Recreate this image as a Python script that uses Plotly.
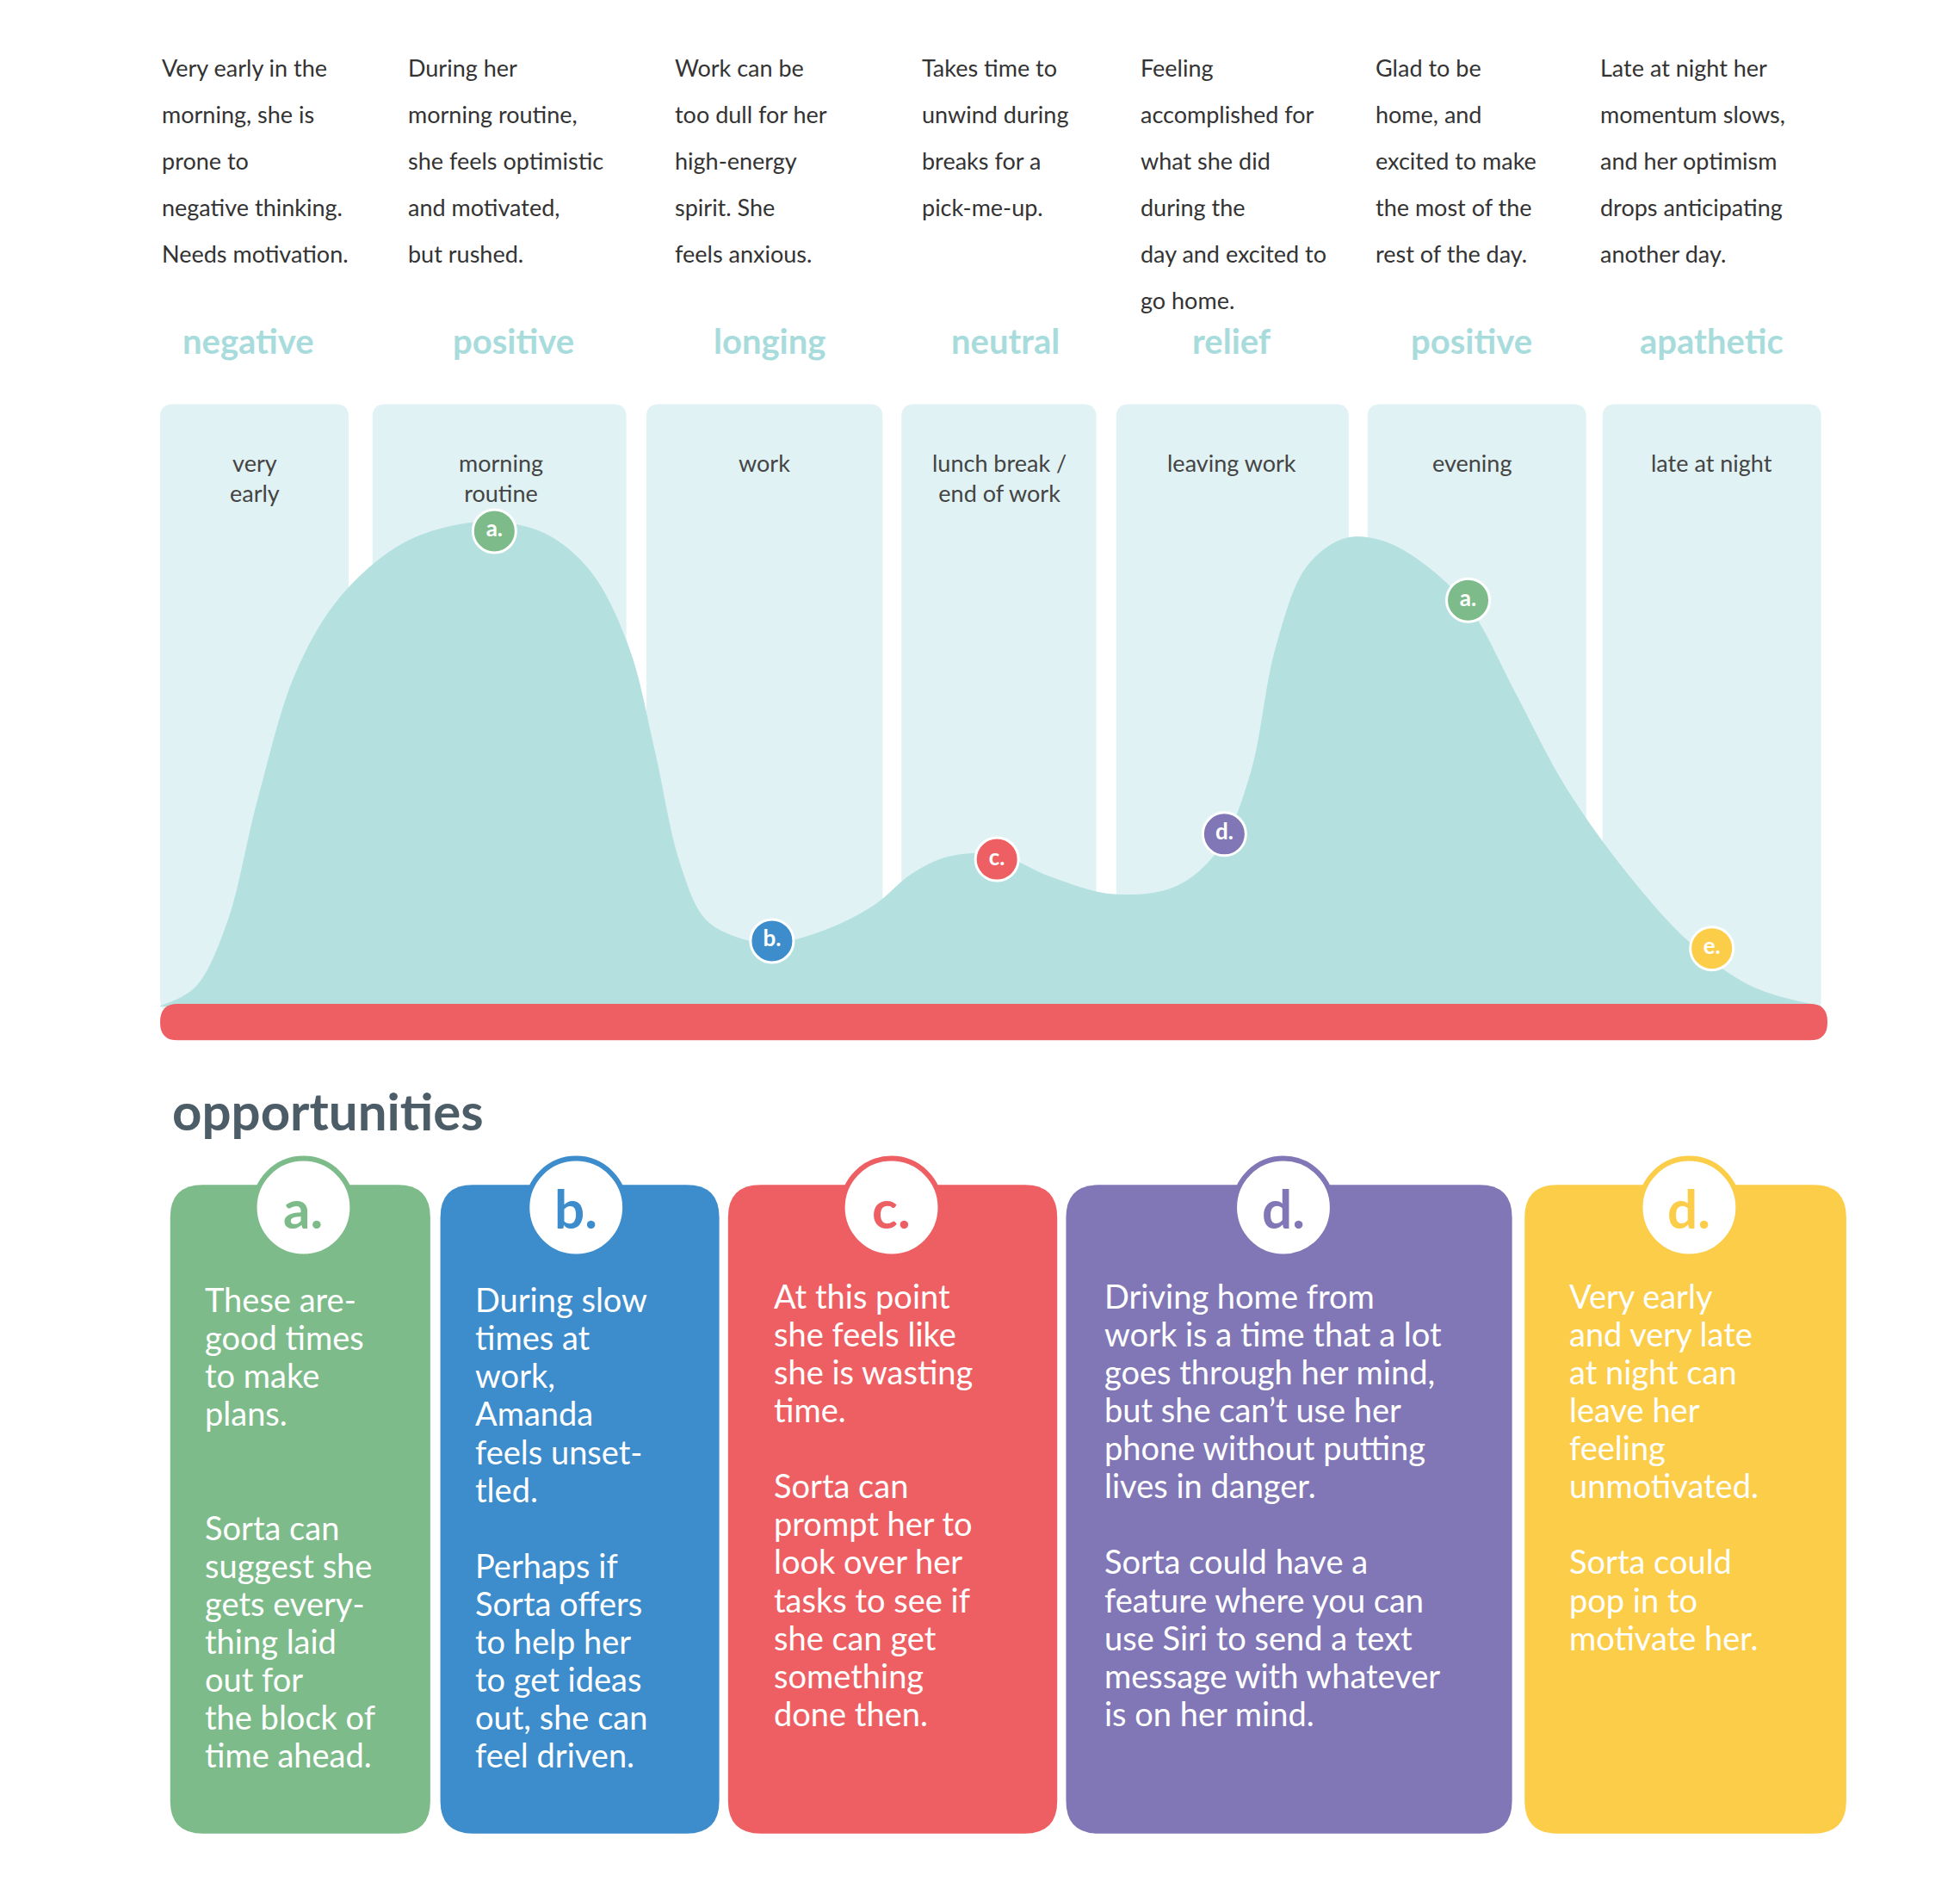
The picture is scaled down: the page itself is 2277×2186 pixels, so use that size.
import plotly.graph_objects as go

W, H = 2277, 2186
XR, YR = 1560, 1497  # design units

# ---- data ----
descriptions = [
    ["Very early in the", "morning, she is", "prone to", "negative thinking.", "Needs motivation."],
    ["During her", "morning routine,", "she feels optimistic", "and motivated,", "but rushed."],
    ["Work can be", "too dull for her", "high-energy", "spirit. She", "feels anxious."],
    ["Takes time to", "unwind during", "breaks for a", "pick-me-up."],
    ["Feeling", "accomplished for", "what she did", "during the", "day and excited to", "go home."],
    ["Glad to be", "home, and", "excited to make", "the most of the", "rest of the day."],
    ["Late at night her", "momentum slows,", "and her optimism", "drops anticipating", "another day."],
]
desc_x = [122, 318, 530, 727, 901, 1088, 1267]
moods = ["negative", "positive", "longing", "neutral", "relief", "positive", "apathetic"]
mood_x = [192, 403, 607, 795, 975, 1166, 1357]
phases = ["very<br>early", "morning<br>routine", "work", "lunch break /<br>end of work", "leaving work", "evening", "late at night"]
phase_x = [197, 393, 603, 790, 975, 1166, 1357]
col_l = [122, 291, 509, 712, 883, 1083, 1270]
col_r = [272, 493, 697, 867, 1068, 1257, 1444]

curve_x = [122, 150, 175, 200, 230, 265, 310, 350, 390, 430, 465, 495, 515, 535, 555, 580, 610,
           650, 690, 720, 750, 790, 830, 880, 930, 965, 990, 1010, 1035, 1065, 1095, 1130, 1165,
           1200, 1240, 1290, 1340, 1390, 1444]
curve_y = [795, 780, 730, 630, 530, 470, 430, 414, 410, 420, 450, 510, 590, 680, 725, 740, 745,
           735, 715, 690, 676, 675, 692, 706, 700, 670, 610, 510, 445, 423, 425, 445, 480,
           545, 620, 690, 745, 780, 795]

pt_label = ["a.", "b.", "c.", "d.", "a.", "e."]
pt_x = [388, 609, 788, 969, 1163, 1357]
pt_y = [417, 743, 678, 658, 472, 749]
GREEN, BLUE, RED, PURPLE, YELLOW = "#7dbb8a", "#3d8ccc", "#ee5f63", "#8177b6", "#fccd48"
pt_col = [GREEN, BLUE, RED, PURPLE, GREEN, YELLOW]

card_letters = ["a.", "b.", "c.", "d.", "d."]
card_l = [130, 345, 574, 843, 1208]
card_r = [337, 567, 836, 1198, 1464]
card_col = [GREEN, BLUE, RED, PURPLE, YELLOW]
card_circle_x = [236, 453, 704, 1016, 1339]
card_text_x = [156, 371, 609, 872, 1242]
card_text_y0 = [1028, 1028, 1025, 1025, 1025]
card_lines = [
    ["These are-", "good times", "to make", "plans.", "", "", "Sorta can", "suggest she", "gets every-",
     "thing laid", "out for", "the block of", "time ahead."],
    ["During slow", "times at", "work,", "Amanda", "feels unset-", "tled.", "", "Perhaps if", "Sorta offers",
     "to help her", "to get ideas", "out, she can", "feel driven."],
    ["At this point", "she feels like", "she is wasting", "time.", "", "Sorta can", "prompt her to",
     "look over her", "tasks to see if", "she can get", "something", "done then."],
    ["Driving home from", "work is a time that a lot", "goes through her mind,", "but she can\u2019t use her",
     "phone without putting", "lives in danger.", "", "Sorta could have a", "feature where you can",
     "use Siri to send a text", "message with whatever", "is on her mind."],
    ["Very early", "and very late", "at night can", "leave her", "feeling", "unmotivated.", "",
     "Sorta could", "pop in to", "motivate her."],
]

FONT = "Lato"
fig = go.Figure()
shapes, ann = [], []


def rrect(x0, y0, x1, y1, r):
    return (f"M{x0+r},{y0} L{x1-r},{y0} Q{x1},{y0} {x1},{y0+r} L{x1},{y1-r} Q{x1},{y1} {x1-r},{y1} "
            f"L{x0+r},{y1} Q{x0},{y1} {x0},{y1-r} L{x0},{y0+r} Q{x0},{y0} {x0+r},{y0} Z")


for l, r in zip(col_l, col_r):
    shapes.append(dict(type="path", path=rrect(l, 316, r, 800, 10), fillcolor="#e0f2f3",
                       line=dict(width=0), layer="below"))

fig.add_trace(go.Scatter(x=curve_x, y=curve_y, mode="lines", line=dict(shape="spline", color="#b4e1e0", width=1, smoothing=1.0),
                         fill="toself", fillcolor="#b4e1e0", hoverinfo="skip"))
shapes.append(dict(type="path", path=rrect(122, 793, 1449, 822, 14), fillcolor="#ee5f63", line=dict(width=0)))

fig.add_trace(go.Scatter(x=pt_x, y=pt_y, mode="markers+text", text=pt_label,
                         marker=dict(size=50, color=pt_col, line=dict(color="white", width=3)),
                         textfont=dict(family=FONT, size=26, color="white", weight="bold"),
                         textposition="middle center", hoverinfo="skip"))

for lines, x in zip(descriptions, desc_x):
    for i, t in enumerate(lines):
        ann.append(dict(x=x, y=48 + 37 * i, text=t, xanchor="left", yanchor="middle", showarrow=False,
                        font=dict(family=FONT, size=27, color="#333333")))
for m, x in zip(moods, mood_x):
    ann.append(dict(x=x, y=266, text=f"<b>{m}</b>", showarrow=False, xanchor="center", yanchor="middle",
                    font=dict(family=FONT, size=40, color="#a8dcdc")))
for p, x in zip(phases, phase_x):
    ann.append(dict(x=x, y=350, text=p, showarrow=False, xanchor="center", yanchor="top",
                    font=dict(family=FONT, size=27, color="#444444")))

ann.append(dict(x=130, y=878, text="<b>opportunities</b>", showarrow=False, xanchor="left", yanchor="middle",
                font=dict(family=FONT, size=60, color="#4d5d68")))

for k in range(5):
    shapes.append(dict(type="path", path=rrect(card_l[k], 937, card_r[k], 1453, 26),
                       fillcolor=card_col[k], line=dict(width=0)))
    cx = card_circle_x[k]
    shapes.append(dict(type="circle", x0=cx - 39, x1=cx + 39, y0=955 - 39, y1=955 + 39,
                       fillcolor="white", line=dict(color=card_col[k], width=6)))
    ann.append(dict(x=cx, y=955, text=f"<b>{card_letters[k]}</b>", showarrow=False,
                    font=dict(family=FONT, size=62, color=card_col[k])))
    for i, t in enumerate(card_lines[k]):
        if t:
            ann.append(dict(x=card_text_x[k], y=card_text_y0[k] + 30.2 * i, text=t, showarrow=False,
                            xanchor="left", yanchor="middle",
                            font=dict(family=FONT, size=38, color="white")))

fig.update_layout(width=W, height=H, margin=dict(l=0, r=0, t=0, b=0), paper_bgcolor="white",
                  plot_bgcolor="white", showlegend=False, shapes=shapes, annotations=ann,
                  xaxis=dict(range=[0, XR], visible=False, fixedrange=True),
                  yaxis=dict(range=[YR, 0], visible=False, fixedrange=True))
fig.write_html("out.html")
